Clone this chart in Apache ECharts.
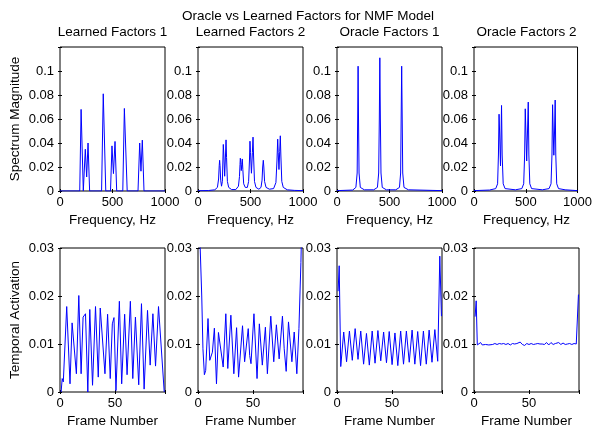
<!DOCTYPE html>
<html><head><meta charset="utf-8">
<script src="https://cdn.jsdelivr.net/npm/echarts@6/dist/echarts.min.js"></script>
<style>html,body{margin:0;padding:0;background:#fff}#c{width:595px;height:428px}</style>
</head><body><div id="c"></div>
<script>
// ---- text ----
const mainTitle = 'Oracle vs Learned Factors for NMF Model';
const panelTitles = ['Learned Factors 1', 'Learned Factors 2', 'Oracle Factors 1', 'Oracle Factors 2'];
const topXLabel = 'Frequency, Hz';
const botXLabel = 'Frame Number';
const topYLabel = 'Spectrum Magnitude';
const botYLabel = 'Temporal Activation';

// ---- axes ----
const freqRange = [0, 1000];
const freqTicks = [0, 500, 1000];
const specRange = [0, 0.12];
const specTicks = [0, 0.02, 0.04, 0.06, 0.08, 0.1];
const frameRange = [0, 95.5];
const frameTicks = [0, 50];
const actRange = [0, 0.03];
const actTicks = [0, 0.01, 0.02, 0.03];

// ---- spectra: [Hz, magnitude] ----
const specLearned1 = [[0,0],[188,0],[201,0.068],[207,0.0675],[222,0],[230,0],[241,0.0348],[254,0.0117],[267,0.040],[282,0],
  [396,0],[412,0.081],[418,0.0805],[436,0],[481,0],[495,0.0376],[509,0.0145],[524,0.0413],[540,0],
  [598,0],[613,0.0688],[621,0.0675],[640,0],[743,0],[759,0.040],[771,0.0165],[784,0.0424],[800,0],[1000,0]];
const specLearned2 = [[0,0.0002],[100,0.0004],[160,0.001],[185,0.003],[196,0.010],[202,0.021],[206,0.0256],[210,0.021],[216,0.009],
  [224,0.004],[232,0.008],[237,0.025],[241,0.0388],[246,0.030],[254,0.0123],[262,0.030],[267,0.0426],[272,0.028],[280,0.008],
  [292,0.003],[320,0.0012],[360,0.0012],[385,0.004],[395,0.012],[400,0.022],[403,0.0273],[407,0.024],[412,0.017],[417,0.022],
  [422,0.0267],[427,0.018],[435,0.006],[450,0.003],[470,0.003],[482,0.008],[490,0.025],[495,0.0415],[500,0.032],[509,0.0148],
  [518,0.032],[524,0.0449],[529,0.030],[538,0.008],[552,0.003],[580,0.0015],[600,0.003],[610,0.009],[616,0.020],[622,0.0256],
  [627,0.020],[634,0.008],[648,0.003],[680,0.0015],[720,0.002],[742,0.007],[752,0.025],[759,0.0432],[764,0.032],[771,0.0179],
  [778,0.033],[784,0.046],[789,0.030],[798,0.008],[812,0.003],[850,0.001],[920,0.0005],[1000,0.0003]];
const specOracle1 = [[0,0.0003],[150,0.0008],[180,0.003],[192,0.015],[197,0.06],[201,0.104],[205,0.06],[210,0.015],[222,0.003],
  [260,0.001],[350,0.001],[385,0.003],[397,0.015],[403,0.06],[408,0.111],[413,0.06],[419,0.015],[431,0.003],[470,0.001],
  [560,0.001],[595,0.003],[606,0.015],[611,0.06],[616,0.104],[621,0.06],[626,0.015],[638,0.003],[680,0.001],[1000,0.0003]];
const specOracle2 = [[0,0.0003],[150,0.0008],[210,0.002],[228,0.006],[236,0.03],[242,0.064],[247,0.05],[256,0.0209],[261,0.045],
  [266,0.0713],[272,0.03],[282,0.006],[300,0.002],[400,0.001],[462,0.002],[480,0.006],[489,0.03],[495,0.0685],[501,0.05],
  [509,0.025],[517,0.05],[524,0.0741],[530,0.03],[539,0.006],[556,0.002],[660,0.001],[725,0.002],[744,0.006],[753,0.03],
  [759,0.0719],[765,0.05],[771,0.0298],[778,0.05],[784,0.0758],[790,0.03],[799,0.006],[816,0.002],[880,0.001],[1000,0.0003]];

// ---- activations: [frame, activation] ----
const actLearned1 = [[1,0],[2,0.0028],[3,0.0021],[4.3,0.0024],[6.1,0.0178],[7.3,0.0181],[9.1,0.0017],[11,0.0144],[12.5,0.0146],
  [14.9,0.0038],[17.1,0.0201],[19.2,0.0038],[21,0.0156],[23.2,0.0163],[25.3,0],[27.1,0.0172],[29.6,0.0014],[32.3,0.0178],
  [34.8,0.0031],[36.6,0.0175],[37.8,0.0176],[40.9,0.0038],[43.3,0.0162],[45.7,0.0028],[47.6,0.0142],[49.1,0.0155],[50.9,0.0003],
  [54,0.0189],[56.1,0.0017],[58.8,0.0162],[61,0.0036],[64,0.0189],[66.2,0.0028],[68.6,0.0156],[71.6,0.0015],[74.1,0.0184],
  [76.5,0.0006],[79.6,0.017],[82,0.0056],[84.5,0.0163],[86.9,0.0054],[89.6,0.0178],[90.9,0.0176],[94.8,0]];
const actLearned2 = [[1,0.042],[2,0.030],[3.4,0.020],[4.5,0.009],[5.8,0.0036],[7,0.0045],[9.1,0.0153],[10.7,0.0066],[13.1,0.0083],
  [14.9,0.0133],[16.8,0.0017],[18.6,0.0124],[19.8,0.0128],[22.9,0.0052],[25.3,0.0163],[27.1,0.0049],[29.9,0.016],[32.6,0.0038],
  [35.1,0.0134],[36.9,0.0031],[40.5,0.0138],[42.4,0.0063],[43.6,0.0059],[45.7,0.0132],[47,0.0076],[48.2,0.0059],[50.9,0.0163],
  [53.7,0.0028],[55.8,0.0142],[58.5,0.0056],[61.3,0.0135],[63.1,0.0038],[66.2,0.0158],[68.9,0.0063],[71.3,0.014],[73.8,0.0069],
  [76.8,0.0158],[78.4,0.009],[80.2,0.0043],[82.3,0.0146],[85.4,0.0063],[87.5,0.0125],[89.9,0.0038],[91.8,0.0132],[93.6,0.027],[94.8,0.040]];
const actOracle1 = [[1,0.0210],[2,0.0263],[3.4,0.0053],[6.1,0.0125],[8.7,0.0063],[11.3,0.0127],[13.9,0.0066],[16.5,0.0132],
  [19.1,0.0068],[21.6,0.0127],[24.2,0.0058],[26.8,0.0122],[29.4,0.0056],[32.0,0.0127],[34.6,0.0060],[37.2,0.0128],[39.8,0.0065],
  [42.4,0.0125],[45.0,0.0061],[47.5,0.0126],[50.1,0.0057],[52.7,0.0123],[55.3,0.0055],[57.9,0.0127],[60.5,0.0058],[63.1,0.0127],
  [65.7,0.0062],[68.3,0.0129],[70.8,0.0058],[73.4,0.0126],[76.0,0.0055],[78.6,0.0127],[81.2,0.0058],[83.8,0.0129],[86.4,0.0062],
  [89.0,0.0130],[91.6,0.0064],[93.5,0.0283],[95,0.0158]];
const actOracle2 = [[1,0.0157],[2,0.0190],[3,0.0098],[4.5,0.0099],[6,0.0103],[7.5,0.0098],[9,0.0102],[10.5,0.0099],[12,0.0101],
  [13.5,0.0098],[15,0.0102],[17,0.0099],[19,0.0101],[21,0.0099],[23,0.0101],[25,0.0100],[27,0.0101],[29,0.0099],[31,0.0101],
  [33,0.0098],[35,0.0101],[37,0.0100],[39,0.0101],[40.5,0.0099],[42,0.0104],[44,0.0099],[46,0.0097],[48,0.0101],[50,0.0099],
  [52,0.0101],[54,0.0099],[56,0.0100],[58,0.0101],[60,0.0100],[62,0.0100],[64,0.0099],[66,0.0103],[68,0.0098],[70,0.0103],
  [72,0.0099],[74,0.0101],[75.5,0.0098],[77,0.0103],[79,0.0099],[81,0.0102],[83,0.0099],[85,0.0100],[87,0.0101],[89,0.0099],
  [91,0.0101],[93,0.0100],[94,0.0100],[95,0.0203]];

const specData = [specLearned1, specLearned2, specOracle1, specOracle2];
const actData = [actLearned1, actLearned2, actOracle1, actOracle2];

// ---- layout ----
const FONT = '"Liberation Sans", Arial, Helvetica, sans-serif';
const TICK_FS = 13, LABEL_FS = 13.5;
const lefts = [60, 198, 337, 474];
const W = 105, H = 144, TOP1 = 47, TOP2 = 248;

const grid = [], xAxis = [], yAxis = [], series = [], graphic = [];
function fmt(v) { return String(parseFloat(v.toFixed(4))); }

function addPanel(idx, left, top, xr, xt, yr, yt, data, xFmtTicks, yFmtTicks) {
  grid.push({ left: left, top: top, width: W, height: H, show: true, borderColor: '#000', borderWidth: 1, backgroundColor: 'transparent' });
  const xi = (xt[1] - xt[0]), yi = (yt[1] - yt[0]);
  const tick = { show: true, inside: true, length: 2, lineStyle: { color: '#000', width: 1 } };
  ['bottom', 'top'].forEach(function (pos, k) {
    xAxis.push({ type: 'value', gridIndex: idx, position: pos, min: xr[0], max: xr[1], interval: xi,
      axisLine: { show: false }, splitLine: { show: false }, axisTick: tick,
      axisLabel: { show: k === 0, margin: 5, color: '#000', fontFamily: FONT, fontSize: TICK_FS, showMaxLabel: true,
        formatter: function (v) { return xFmtTicks.some(function (t) { return Math.abs(t - v) < 1e-9; }) ? fmt(v) : ''; } } });
  });
  ['left', 'right'].forEach(function (pos, k) {
    yAxis.push({ type: 'value', gridIndex: idx, position: pos, min: yr[0], max: yr[1], interval: yi,
      axisLine: { show: false }, splitLine: { show: false }, axisTick: tick,
      axisLabel: { show: k === 0, margin: 6, color: '#000', fontFamily: FONT, fontSize: TICK_FS,
        formatter: function (v) { return yFmtTicks.some(function (t) { return Math.abs(t - v) < 1e-9; }) ? fmt(v) : ''; } } });
  });
  series.push({ type: 'line', xAxisIndex: idx * 2, yAxisIndex: idx * 2, data: data, symbol: 'none', clip: true,
    lineStyle: { color: '#0000ff', width: 1 }, silent: true, animation: false });
}

for (let i = 0; i < 4; i++) {
  addPanel(i, lefts[i], TOP1, freqRange, freqTicks, specRange, specTicks, specData[i], freqTicks, specTicks);
}
for (let i = 0; i < 4; i++) {
  addPanel(4 + i, lefts[i], TOP2, frameRange, frameTicks, actRange, actTicks, actData[i], frameTicks, actTicks);
}

function txt(t, x, y, rot) {
  return { type: 'text', x: x, y: y, rotation: rot || 0, silent: true,
    style: { text: t, fill: '#000', font: LABEL_FS + 'px ' + FONT, textAlign: 'center', textVerticalAlign: 'middle' } };
}
graphic.push(txt(mainTitle, 308, 16));
for (let i = 0; i < 4; i++) {
  const cx = lefts[i] + W / 2;
  graphic.push(txt(panelTitles[i], cx, 32));
  graphic.push(txt(topXLabel, cx, 220));
  graphic.push(txt(botXLabel, cx, 421));
}
graphic.push(txt(topYLabel, 15, TOP1 + H / 2, Math.PI / 2));
graphic.push(txt(botYLabel, 15, TOP2 + H / 2, Math.PI / 2));

const chart = echarts.init(document.getElementById('c'), null, { renderer: 'canvas' });
chart.setOption({ animation: false, backgroundColor: '#fff', grid: grid, xAxis: xAxis, yAxis: yAxis, series: series, graphic: graphic });
</script></body></html>
